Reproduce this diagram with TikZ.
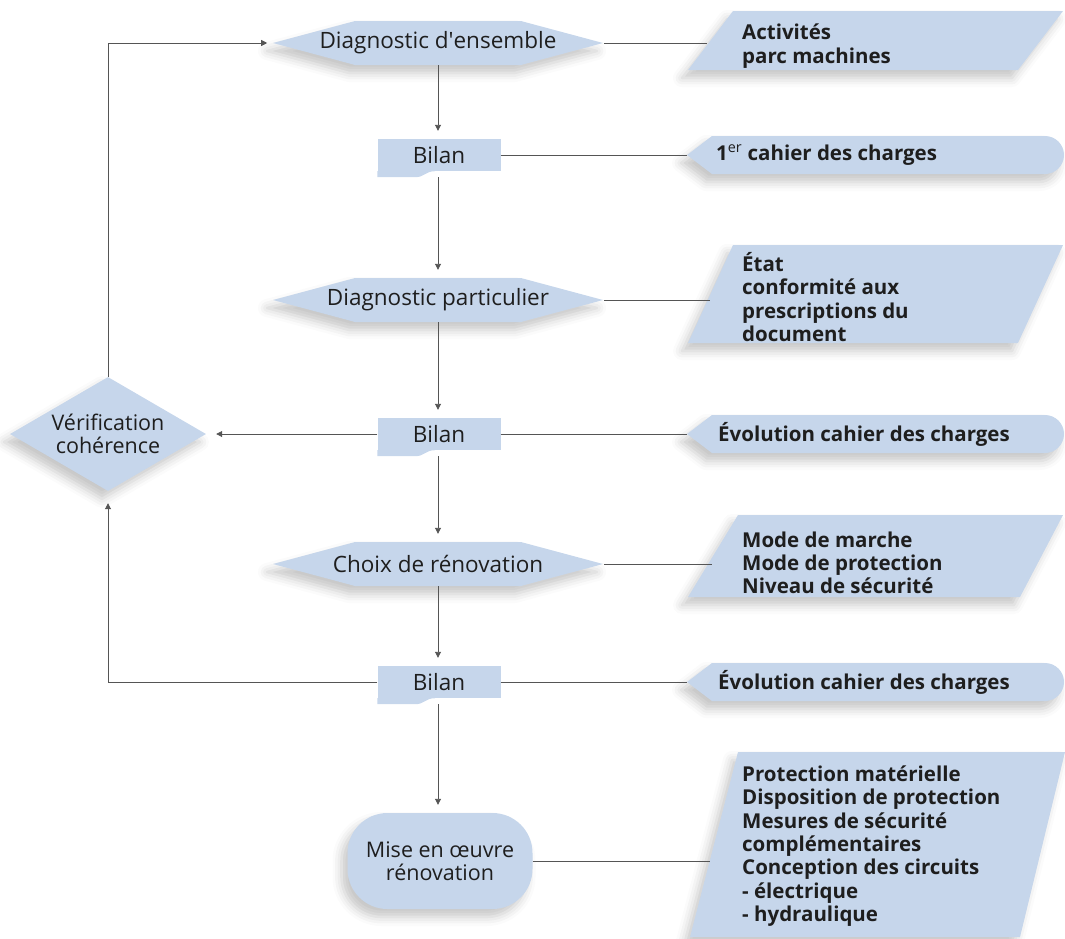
\documentclass[tikz,border=0pt]{standalone}
\usepackage{fontspec}
\setmainfont{Open Sans}
\usetikzlibrary{shapes.symbols,shapes.geometric,arrows.meta,shadows.blur}

\definecolor{fondbleu}{RGB}{198,214,235}
\definecolor{trait}{RGB}{85,85,85}
\definecolor{encre}{RGB}{30,30,30}

% petite languette sous les cases "Bilan"
\newcommand{\bilantab}[1]{%
  \fill[fondbleu] (#1.south west) -- ([yshift=-6pt]#1.south west)
    -- ([xshift=-24pt,yshift=-6pt]#1.south)
    .. controls ([xshift=-14pt,yshift=-6pt]#1.south) and ([xshift=-14pt]#1.south) .. ([xshift=-4pt]#1.south)
    -- cycle;}

\begin{document}
\begin{tikzpicture}[x=1pt, y=-1pt]
    \tikzstyle{ombre} = [blur shadow={shadow xshift=-6pt, shadow yshift=-8pt, shadow blur radius=9pt, shadow opacity=22}]
    \tikzstyle{hexa} = [signal, signal to=west and east, signal pointer angle=30, fill=fondbleu, ombre, text=encre, inner ysep=0pt, inner xsep=-45pt, minimum width=330pt, minimum height=44pt, font=\fontsize{22.5}{25}\selectfont]
    \tikzstyle{bilan} = [rectangle, fill=fondbleu, text=encre, inner sep=0pt, minimum width=123pt, minimum height=32pt, font=\fontsize{22.5}{25}\selectfont]
    \tikzstyle{verif} = [diamond, aspect=1.73, fill=fondbleu, ombre, text=encre, align=center, inner sep=0pt, minimum width=196pt, minimum height=114pt, font=\fontsize{21.5}{23.5}\selectfont]
    \tikzstyle{oeuvre} = [rectangle, rounded corners=40pt, fill=fondbleu, ombre, text=encre, align=center, minimum width=185pt, minimum height=96pt, font=\fontsize{21.5}{23.5}\selectfont]
    \tikzstyle{donnee} = [anchor=west, align=left, text=encre, inner sep=0pt, font=\bfseries\fontsize{20.5}{23.3}\selectfont]
    \tikzstyle{lien} = [draw=trait, line width=0.9pt]
    \tikzstyle{fleche} = [lien, -{Triangle[length=6pt, width=6pt]}, shorten >=8pt]

    \useasboundingbox (0,0) rectangle (1065,938);

    % Colonne principale
    \node[hexa] (diag1) at (438,43) {Diagnostic d\textquotesingle ensemble};
    \node[bilan] (bil1) at (439,155) {Bilan};
    \node[hexa] (diag2) at (438,300) {Diagnostic particulier};
    \node[bilan] (bil2) at (439,434) {Bilan};
    \node[hexa] (choix) at (438,564) {Choix de rénovation};
    \node[bilan] (bil3) at (439,682) {Bilan};
    \node[oeuvre] (mise) at (440,861) {Mise en œuvre\\rénovation};
    \bilantab{bil1}
    \bilantab{bil2}
    \bilantab{bil3}

    % Boucle de vérification
    \node[verif] (verif) at (108,434) {Vérification\\cohérence};

    % Données à droite
    \fill[fondbleu, ombre] (688,70) -- (733,11) -- (1063,11) -- (1018,70) -- cycle;
    \coordinate (don1) at (707,43);
    \node[donnee] (act) at (742,46) {Activités\\parc machines};

    \fill[fondbleu, ombre] (687,155) -- (712,136) -- (1045,136) arc[start angle=90, end angle=-90, radius=19pt] -- (712,174) -- cycle;
    \coordinate (don2) at (687,155);
    \node[donnee] (cahier) at (716,155) {1\textsuperscript{\mdseries er} cahier des charges};

    \fill[fondbleu, ombre] (688,343) -- (733,245) -- (1063,245) -- (1018,343) -- cycle;
    \coordinate (don3) at (710,300);
    \node[donnee] (etat) at (742,297) {État\\conformité aux\\prescriptions du\\document};

    \fill[fondbleu, ombre] (687,434) -- (712,415) -- (1045,415) arc[start angle=90, end angle=-90, radius=19pt] -- (712,453) -- cycle;
    \coordinate (don4) at (687,434);
    \node[donnee] (evol1) at (718,434) {Évolution cahier des charges};

    \fill[fondbleu, ombre] (688,597) -- (738,515) -- (1063,515) -- (1020,597) -- cycle;
    \coordinate (don5) at (712,564);
    \node[donnee] (modes) at (742,563) {Mode de marche\\Mode de protection\\Niveau de sécurité};

    \fill[fondbleu, ombre] (687,682) -- (712,663) -- (1045,663) arc[start angle=90, end angle=-90, radius=19pt] -- (712,701) -- cycle;
    \coordinate (don6) at (687,682);
    \node[donnee] (evol2) at (718,682) {Évolution cahier des charges};

    \fill[fondbleu, ombre] (690,937) -- (738,752) -- (1065,752) -- (1020,937) -- cycle;
    \coordinate (don7) at (710,861);
    \node[donnee] (protec) at (742,846) {Protection matérielle\\Disposition de protection\\Mesures de sécurité\\complémentaires\\Conception des circuits\\- électrique\\- hydraulique};

    % Flèches verticales
    \draw[fleche] (diag1.south) -- (diag1.south |- bil1.north);
    \draw[fleche] ([yshift=-6pt]bil1.south -| diag1.south) -- (diag2.north);
    \draw[fleche] (diag2.south) -- (diag2.south |- bil2.north);
    \draw[fleche] ([yshift=-6pt]bil2.south -| diag2.south) -- (choix.north);
    \draw[fleche] (choix.south) -- (choix.south |- bil3.north);
    \draw[fleche] ([yshift=-6pt]bil3.south -| choix.south) -- (choix.south |- mise.north);

    % Retours
    \draw[fleche, shorten >=10pt] (bil2.west) -- (verif.east);
    \draw[fleche, shorten >=5pt] (verif.north) |- (diag1.west);
    \draw[fleche, shorten >=12pt] (bil3.west) -| (verif.south);

    % Liens vers les données
    \draw[lien] (diag1.east) -- (don1);
    \draw[lien] (bil1.east) -- (don2);
    \draw[lien] (diag2.east) -- (don3);
    \draw[lien] (bil2.east) -- (don4);
    \draw[lien] (choix.east) -- (don5);
    \draw[lien] (bil3.east) -- (don6);
    \draw[lien] (mise.east) -- (don7);
\end{tikzpicture}
\end{document}
